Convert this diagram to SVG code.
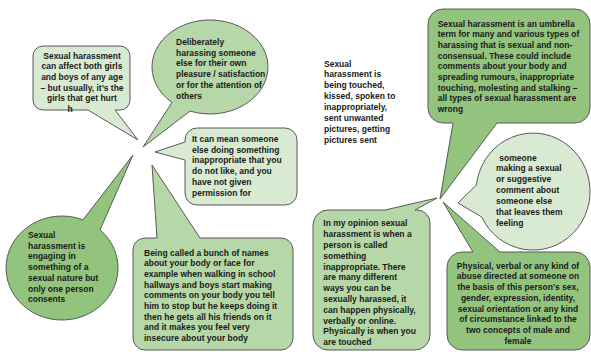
<svg xmlns="http://www.w3.org/2000/svg" width="591" height="352" viewBox="0 0 591 352">
<style>
.s{stroke:#595959;stroke-width:1;stroke-linejoin:miter}
.l{fill:#d9ead3}
.m{fill:#b6d7a8}
.d{fill:#93c47d}
text{font-family:"Liberation Sans",Arial,sans-serif;font-weight:bold;font-size:8.5px;fill:#1a1a1a}
.c{text-anchor:middle}
</style>
<rect width="591" height="352" fill="#ffffff"/>

<g id="n-affect">
<path class="s l" d="M43,46 H120 A10 10 0 0 1 130,56 V100 A10 10 0 0 1 120,110 H115 L138,140 L88,110 H43 A10 10 0 0 1 33,100 V56 A10 10 0 0 1 43,46 Z"/>
<text class="c" x="82" y="58.5">Sexual harassment</text>
<text class="c" x="82" y="69.2">can affect both girls</text>
<text class="c" x="82" y="79.9">and boys of any age</text>
<text class="c" x="82" y="90.6">– but usually, it’s the</text>
<text class="c" x="82" y="101.3">girls that get hurt</text>
<text class="c" x="70" y="112">h</text>
</g>

<g id="n-deliberately">
<path class="s m" d="M190,111.1 L143,147 L172,102.5 A58 47 0 1 1 190,111.1 Z"/>
<text x="176" y="45">Deliberately</text>
<text x="176" y="55.7">harassing someone</text>
<text x="176" y="66.4">else for their own</text>
<text x="176" y="77.1">pleasure / satisfaction</text>
<text x="176" y="87.8">or for the attention of</text>
<text x="176" y="98.5">others</text>
</g>

<g id="n-mean">
<path class="s l" d="M197,128 H285 A12 12 0 0 1 297,140 V193 A12 12 0 0 1 285,205 H197 A12 12 0 0 1 185,193 V160 L155,152 L185,142 V140 A12 12 0 0 1 197,128 Z"/>
<text x="192" y="142">It can mean someone</text>
<text x="192" y="152.7">else doing something</text>
<text x="192" y="163.4">inappropriate that you</text>
<text x="192" y="174.1">do not like, and you</text>
<text x="192" y="184.8">have not given</text>
<text x="192" y="195.5">permission for</text>
</g>

<g id="n-engaging">
<path class="s d" d="M83,219.8 L133,155 L100,229.8 A56 52 0 1 1 83,219.8 Z"/>
<text x="28" y="238">Sexual</text>
<text x="28" y="248.7">harassment is</text>
<text x="28" y="259.4">engaging in</text>
<text x="28" y="270.1">something of a</text>
<text x="28" y="280.8">sexual nature but</text>
<text x="28" y="291.5">only one person</text>
<text x="28" y="302.2">consents</text>
</g>

<g id="n-names">
<path class="s m" d="M145,238 H157 L152,165 L200,238 H281 A12 12 0 0 1 293,250 V338 A12 12 0 0 1 281,350 H145 A12 12 0 0 1 133,338 V250 A12 12 0 0 1 145,238 Z"/>
<text x="144" y="255.5">Being called a bunch of names</text>
<text x="144" y="266.2">about your body or face for</text>
<text x="144" y="276.9">example when walking in school</text>
<text x="144" y="287.6">hallways and boys start making</text>
<text x="144" y="298.3">comments on your body you tell</text>
<text x="144" y="309">him to stop but he keeps doing it</text>
<text x="144" y="319.7">then he gets all his friends on it</text>
<text x="144" y="330.4">and it makes you feel very</text>
<text x="144" y="341.1">insecure about your body</text>
</g>

<g id="n-touched">
<text x="324" y="66.5">Sexual</text>
<text x="324" y="77.4">harassment is</text>
<text x="324" y="88.3">being touched,</text>
<text x="324" y="99.2">kissed, spoken to</text>
<text x="324" y="110.1">inappropriately,</text>
<text x="324" y="121">sent unwanted</text>
<text x="324" y="131.9">pictures, getting</text>
<text x="324" y="142.8">pictures sent</text>
</g>

<g id="n-umbrella">
<path class="s d" d="M443,9 H575 A15 15 0 0 1 590,24 V108 A15 15 0 0 1 575,123 H497 L440,199 L453,123 H443 A15 15 0 0 1 428,108 V24 A15 15 0 0 1 443,9 Z"/>
<text x="437.7" y="26.5">Sexual harassment is an umbrella</text>
<text x="437.7" y="37.2">term for many and various types of</text>
<text x="437.7" y="47.9">harassing that is sexual and non-</text>
<text x="437.7" y="58.6">consensual. These could include</text>
<text x="437.7" y="69.3">comments about your body and</text>
<text x="437.7" y="80">spreading rumours, inappropriate</text>
<text x="437.7" y="90.7">touching, molesting and stalking –</text>
<text x="437.7" y="101.4">all types of sexual harassment are</text>
<text x="437.7" y="112.1">wrong</text>
</g>

<g id="n-comment">
<path class="s l" d="M476.4,185 L458,203 L481.7,217 A57 58.5 0 1 0 476.4,185 Z"/>
<text x="499.3" y="160.5">someone</text>
<text x="496" y="171.4">making a sexual</text>
<text x="496" y="182.3">or suggestive</text>
<text x="496" y="193.2">comment about</text>
<text x="496" y="204.1">someone else</text>
<text x="496" y="215">that leaves them</text>
<text x="496" y="225.9">feeling</text>
</g>

<g id="n-opinion">
<path class="s m" d="M328,210 H385 L437,198 L415,210 H417 A13 13 0 0 1 430,223 V335 A15 15 0 0 1 415,350 H328 A15 15 0 0 1 313,335 V225 A15 15 0 0 1 328,210 Z"/>
<text x="323.3" y="226.3">In my opinion sexual</text>
<text x="323.3" y="237.1">harassment is when a</text>
<text x="323.3" y="247.9">person is called</text>
<text x="323.3" y="258.7">something</text>
<text x="323.3" y="269.5">inappropriate. There</text>
<text x="323.3" y="280.3">are many different</text>
<text x="323.3" y="291.1">ways you can be</text>
<text x="323.3" y="301.9">sexually harassed, it</text>
<text x="323.3" y="312.7">can happen physically,</text>
<text x="323.3" y="323.5">verbally or online.</text>
<text x="323.3" y="334.3">Physically is when you</text>
<text x="323.3" y="345.1">are touched</text>
</g>

<g id="n-physical">
<path class="s d" d="M462,252 H473 L443,202 L500,252 H575 A15 15 0 0 1 590,267 V335 A15 15 0 0 1 575,350 H462 A15 15 0 0 1 447,335 V267 A15 15 0 0 1 462,252 Z"/>
<text class="c" x="518" y="268.7">Physical, verbal or any kind of</text>
<text class="c" x="518" y="279.4">abuse directed at someone on</text>
<text class="c" x="518" y="290.1">the basis of this person’s sex,</text>
<text class="c" x="518" y="300.8">gender, expression, identity,</text>
<text class="c" x="518" y="311.5">sexual orientation or any kind</text>
<text class="c" x="518" y="322.2">of circumstance linked to the</text>
<text class="c" x="518" y="332.9">two concepts of male and</text>
<text class="c" x="518" y="343.6">female</text>
</g>
</svg>
